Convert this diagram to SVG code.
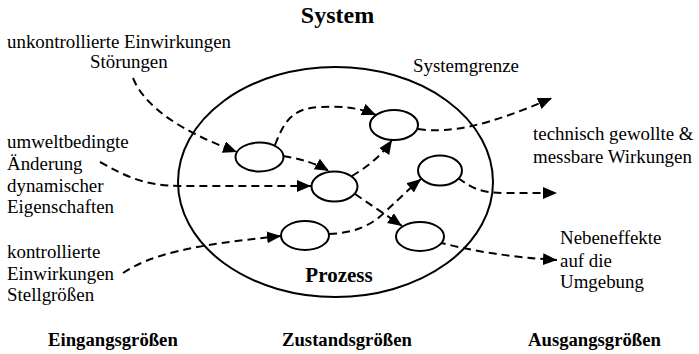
<svg xmlns="http://www.w3.org/2000/svg" width="699" height="354" viewBox="0 0 699 354">
<defs>
<marker id="ah" markerUnits="userSpaceOnUse" markerWidth="16" markerHeight="14" refX="14" refY="6" orient="auto">
<path d="M0,0 L14,6 L0,12 Z" fill="#000"/>
</marker>
<style>
.n{fill:#fff;stroke:#000;stroke-width:2}
.c{fill:none;stroke:#000;stroke-width:2;stroke-dasharray:8 5;marker-end:url(#ah)}
</style>
</defs>
<rect width="699" height="354" fill="#fff"/>
<g id="system" font-family="Liberation Serif, Tinos, Times, DejaVu Serif, serif" fill="#000">
<ellipse cx="335.5" cy="182" rx="157.5" ry="115" fill="none" stroke="#000" stroke-width="2"/>
<text x="337.5" y="23" font-size="24" font-weight="bold" text-anchor="middle">System</text>
<text x="413" y="72" font-size="18.9">Systemgrenze</text>
<text x="339" y="282" font-size="21" font-weight="bold" text-anchor="middle">Prozess</text>
</g>
<g id="connectors">
<path class="c" d="M133,78 Q150,120 237,152"/>
<path class="c" d="M100,162 C125,176 145,186 180,186 L311,186"/>
<path class="c" d="M123,273 C150,255 190,245 281,236"/>
<path class="c" d="M275,145 C283,125 290,108 320,107 C345,106 360,108 376,115"/>
<path class="c" d="M283,156 Q310,160 329,171"/>
<path class="c" d="M352,176 C365,168 380,158 392,140"/>
<path class="c" d="M418,129 C450,134 490,125 552,98"/>
<path class="c" d="M355,194 L402,226"/>
<path class="c" d="M329,234 C355,233 372,225 385,212 C400,198 410,188 421,179"/>
<path class="c" d="M458,178 C472,188 480,193 505,193 L557,193"/>
<path class="c" d="M438,242 Q490,256 557,260"/>
</g>
<g id="n1"><ellipse class="n" cx="259.5" cy="157" rx="24" ry="14.5"/></g>
<g id="n2"><ellipse class="n" cx="334.5" cy="186.5" rx="23" ry="15"/></g>
<g id="n3"><ellipse class="n" cx="394" cy="125" rx="24" ry="15"/></g>
<g id="n4"><ellipse class="n" cx="440" cy="170.5" rx="22" ry="15"/></g>
<g id="n5"><ellipse class="n" cx="305" cy="235.5" rx="24" ry="14.5"/></g>
<g id="n6"><ellipse class="n" cx="420" cy="236.5" rx="24" ry="14.5"/></g>
<g id="labels" font-family="Liberation Serif, Tinos, Times, DejaVu Serif, serif" font-size="18.9" fill="#000">
<text x="7" y="48">unkontrollierte Einwirkungen</text>
<text x="90" y="68">Störungen</text>
<text x="7" y="148">umweltbedingte</text>
<text x="7" y="170">Änderung</text>
<text x="7" y="191.5">dynamischer</text>
<text x="7" y="213">Eigenschaften</text>
<text x="7" y="258">kontrollierte</text>
<text x="7" y="280">Einwirkungen</text>
<text x="7" y="301">Stellgrößen</text>
<text x="533" y="140">technisch gewollte &amp;</text>
<text x="533" y="163">messbare Wirkungen</text>
<text x="560" y="244">Nebeneffekte</text>
<text x="560" y="266.5">auf die</text>
<text x="560" y="288">Umgebung</text>
<text x="48" y="346" font-weight="bold" font-size="18.7">Eingangsgrößen</text>
<text x="282" y="346" font-weight="bold" font-size="18.7">Zustandsgrößen</text>
<text x="528" y="346" font-weight="bold" font-size="18.7">Ausgangsgrößen</text>
</g>
</svg>
